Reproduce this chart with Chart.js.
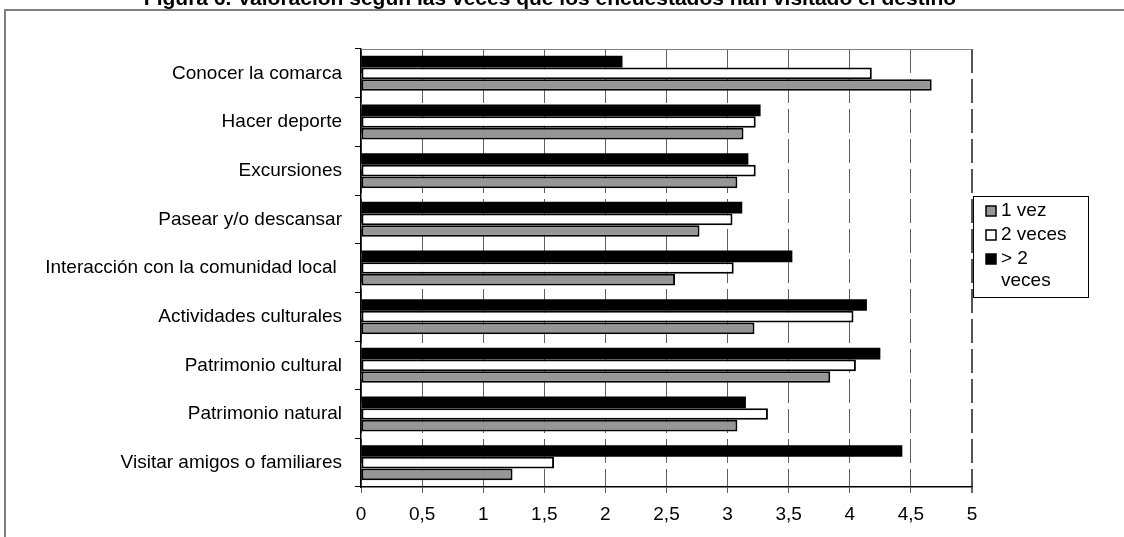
<!DOCTYPE html>
<html>
<head>
<meta charset="utf-8">
<script src="https://cdn.jsdelivr.net/npm/chart.js@4"></script>
<style>
  html, body { margin: 0; padding: 0; background: #fff; }
  #wrap { width: 1124px; height: 537px; }
</style>
</head>
<body>
<div id="wrap"><canvas id="grafico" width="1124" height="537"></canvas></div>
<script>
// Datos
const categorias = [
    'Conocer la comarca',
    'Hacer deporte',
    'Excursiones',
    'Pasear y/o descansar',
    'Interacción con la comunidad local ',
    'Actividades culturales',
    'Patrimonio cultural',
    'Patrimonio natural',
    'Visitar amigos o familiares'
];
const unaVez   = [4.67, 3.13, 3.08, 2.77, 2.57, 3.22, 3.84, 3.08, 1.24];
const dosVeces = [4.18, 3.23, 3.23, 3.04, 3.05, 4.03, 4.05, 3.33, 1.58];
const masDeDos = [2.14, 3.27, 3.17, 3.12, 3.53, 4.14, 4.25, 3.15, 4.43];
const etiquetasX = ['0', '0,5', '1', '1,5', '2', '2,5', '3', '3,5', '4', '4,5', '5'];
const titulo = 'Figura 6. Valoración según las veces que los encuestados han visitado el destino';

const FUENTE = "'Liberation Sans', Arial, sans-serif";

// Marco, título, bordes del área y leyenda
const decoracion = {
    id: 'decoracion',
    afterDraw(chart) {
        const ctx = chart.ctx;
        const area = chart.chartArea;
        ctx.save();

        // marco exterior
        ctx.strokeStyle = '#7f7f7f';
        ctx.lineWidth = 2;
        ctx.beginPath();
        ctx.moveTo(5, 537);
        ctx.lineTo(5, 10);
        ctx.lineTo(1124, 10);
        ctx.stroke();

        // título (cortado arriba como en la figura)
        ctx.fillStyle = '#000';
        ctx.font = 'bold 21px ' + FUENTE;
        ctx.textAlign = 'center';
        ctx.textBaseline = 'alphabetic';
        ctx.fillText(titulo, 550, 5);

        // borde superior del área de trazado
        ctx.strokeStyle = '#808080';
        ctx.lineWidth = 1;
        ctx.beginPath();
        ctx.moveTo(area.left, area.top + 0.5);
        ctx.lineTo(area.right, area.top + 0.5);
        ctx.stroke();

        // leyenda
        const lx = 973, ly = 196, lw = 115, lh = 101;
        ctx.fillStyle = '#fff';
        ctx.fillRect(lx, ly, lw, lh);
        ctx.strokeStyle = '#000';
        ctx.lineWidth = 1;
        ctx.strokeRect(lx + 0.5, ly + 0.5, lw, lh);

        const items = chart.data.datasets.slice().reverse();
        const filas = [[items[0].label], [items[1].label], ['> 2', 'veces']];
        ctx.font = '19px ' + FUENTE;
        ctx.textAlign = 'left';
        ctx.textBaseline = 'middle';
        let y = ly + 15;
        filas.forEach((lineas, i) => {
            ctx.fillStyle = items[i].backgroundColor;
            ctx.fillRect(lx + 13, y - 5, 10, 10);
            ctx.strokeStyle = '#000';
            ctx.lineWidth = 1.5;
            ctx.strokeRect(lx + 13, y - 5, 10, 10);
            ctx.fillStyle = '#000';
            lineas.forEach((t, j) => {
                ctx.fillText(t, lx + 28, y + j * 22);
            });
            y += 24 + (lineas.length - 1) * 22;
        });
        ctx.restore();
    }
};

function initGrafico() {
    const ctx = document.getElementById('grafico');

    const data = {
        labels: categorias,
        datasets: [
            { label: '> 2 veces', data: masDeDos, backgroundColor: '#000000', borderWidth: 0 },
            { label: '2 veces', data: dosVeces, backgroundColor: '#ffffff', borderWidth: 2 },
            { label: '1 vez', data: unaVez, backgroundColor: '#969696', borderWidth: 2 }
        ].map(d => Object.assign(d, {
            borderColor: '#000',
            borderSkipped: false,
            categoryPercentage: 0.72,
            barPercentage: 1.0
        }))
    };

    const config = {
        type: 'bar',
        data: data,
        options: {
            indexAxis: 'y',
            responsive: false,
            animation: false,
            layout: { padding: { top: 49, right: 152, bottom: 0, left: 0 } },
            plugins: {
                legend: { display: false },
                title: { display: false },
                tooltip: { enabled: false }
            },
            scales: {
                x: {
                    min: 0,
                    max: 5,
                    afterFit(scale) { scale.height = 50; },
                    ticks: {
                        stepSize: 0.5,
                        color: '#000',
                        padding: 10,
                        font: { family: FUENTE, size: 19 },
                        callback: (v, i) => etiquetasX[i]
                    },
                    grid: {
                        color: c => c.tick && c.tick.value === 5 ? '#555' : '#606060',
                        lineWidth: c => c.tick && c.tick.value === 5 ? 2 : 1,
                        tickColor: '#606060',
                        tickLength: 6
                    },
                    border: { display: true, color: '#000', width: 1.5, dash: [24, 6] }
                },
                y: {
                    afterFit(scale) { scale.width = 361; },
                    ticks: {
                        color: '#000',
                        padding: 13,
                        font: { family: FUENTE, size: 19 }
                    },
                    grid: {
                        drawOnChartArea: false,
                        offset: true,
                        tickColor: '#000',
                        tickLength: 6
                    },
                    border: { display: true, color: '#000', width: 1.5 }
                }
            }
        },
        plugins: [decoracion]
    };

    new Chart(ctx, config);
}

document.addEventListener('DOMContentLoaded', function() {
    initGrafico();
});
</script>
</body>
</html>
